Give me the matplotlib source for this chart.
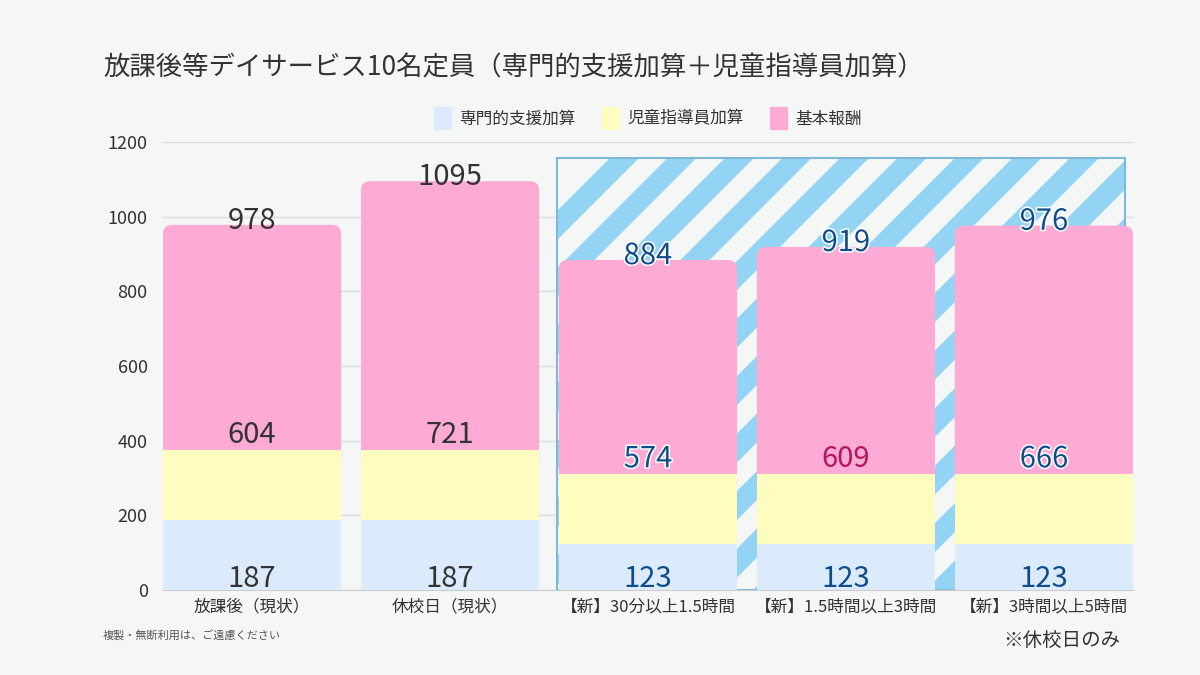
import matplotlib
matplotlib.use("Agg")
import matplotlib.pyplot as plt
import matplotlib.patches as patches
import matplotlib.patheffects as pe
from matplotlib.collections import PolyCollection

plt.rcParams['font.family'] = ['Noto Sans CJK JP', 'DejaVu Sans']

# --- data ---
categories = ['放課後（現状）', '休校日（現状）', '【新】30分以上1.5時間',
              '【新】1.5時間以上3時間', '【新】3時間以上5時間']
senmon = [187, 187, 123, 123, 123]      # 専門的支援加算
jidou = [187, 187, 187, 187, 187]       # 児童指導員加算
kihon = [604, 721, 574, 609, 666]       # 基本報酬
series_names = ['専門的支援加算', '児童指導員加算', '基本報酬']
yticks = [0, 200, 400, 600, 800, 1000, 1200]

BG = '#F5F7F7'
C_BLUE = '#DCEBFC'
C_YEL = '#FEFCBE'
C_PINK = '#FDAAD4'
STRIPE = '#93D4F4'
DARK = '#333333'
NAVY = '#0F4C8C'
CRIMSON = '#B3185C'

fig = plt.figure(figsize=(12, 6.75), dpi=100)
fig.patch.set_facecolor(BG)
W, H = 1200, 675
ax = fig.add_axes([163 / W, 85 / H, 970 / W, 448 / H])
ax.set_facecolor(BG)
ax.set_xlim(-0.45, 4.45)
ax.set_ylim(0, 1200)

ppx = 970 / 4.9      # pixels per x unit
ppy = 448 / 1200     # pixels per y unit

x = list(range(len(categories)))
base2 = [a + b for a, b in zip(senmon, jidou)]
totals = [a + b for a, b in zip(base2, kihon)]

# hatched "new" area
rx0, rx1, rtop = 1.54, 4.41, 1157
hatch_rect = patches.Rectangle((rx0, 0), rx1 - rx0, rtop, facecolor=BG,
                               edgecolor='none', zorder=1)
ax.add_patch(hatch_rect)
Hpx = rtop * ppy
polys = []
s = 178 - 163
while s < (rx1 + 0.45) * ppx:
    pts = [(s, 0), (s + 29, 0), (s + 29 + Hpx, Hpx), (s + Hpx, Hpx)]
    polys.append([(px / ppx - 0.45, py / ppy) for px, py in pts])
    s += 57.5
stripes = PolyCollection(polys, facecolors=STRIPE, edgecolors='none', zorder=1.5)
ax.add_collection(stripes)
stripes.set_clip_path(hatch_rect)
# border above stripes
ax.add_patch(patches.Rectangle((rx0, 0), rx1 - rx0, rtop, facecolor='none',
                               edgecolor='#80B9D8', linewidth=1.5, zorder=1.6))

ax.set_axisbelow(True)
ax.grid(axis='y', color='#DADDDD', linewidth=1)
ax.grid(axis='x', visible=False)

w = 0.9
b1 = ax.bar(x, senmon, width=w, color=C_BLUE, zorder=3, label=series_names[0])
b2 = ax.bar(x, jidou, width=w, bottom=senmon, color=C_YEL, zorder=3, label=series_names[1])
b3 = ax.bar(x, kihon, width=w, bottom=base2, color=C_PINK, zorder=2.5, label=series_names[2])

# rounded tops on the pink segments
for r in b3:
    r.set_visible(False)
    bx, by, bw, bh = r.get_x(), r.get_y(), r.get_width(), r.get_height()
    fb = patches.FancyBboxPatch((bx, by - 60), bw, bh + 60,
                                boxstyle='round,pad=0,rounding_size=%f' % (9 / ppx),
                                mutation_aspect=ppx / ppy,
                                facecolor=C_PINK, edgecolor='none', zorder=2.5)
    ax.add_patch(fb)

for i in x:
    new = i >= 2
    col = NAVY if new else DARK
    fx = [pe.withStroke(linewidth=2.2, foreground='white')] if new else []
    ax.annotate(str(totals[i]), (i, totals[i]), xytext=(0, -3), textcoords='offset points',
                ha='center', va='baseline', fontsize=21, color=col, zorder=5, path_effects=fx)
    pc = CRIMSON if i == 3 else col
    pfx = [] if i == 3 else fx
    ax.annotate(str(kihon[i]), (i, base2[i]), xytext=(0, 5), textcoords='offset points',
                ha='center', va='baseline', fontsize=21, color=pc, zorder=5, path_effects=pfx)
    ax.annotate(str(senmon[i]), (i, 0), xytext=(0, 2), textcoords='offset points',
                ha='center', va='baseline', fontsize=21, color=col, zorder=5)

ax.set_yticks(yticks)
ax.set_xticks(x)
ax.set_xticklabels(categories, fontsize=12, color=DARK)
ax.tick_params(axis='y', length=0, pad=11, labelsize=13, labelcolor=DARK)
ax.tick_params(axis='x', length=0, pad=6)
for sp in ['top', 'right', 'left']:
    ax.spines[sp].set_visible(False)
ax.spines['bottom'].set_color('#CCCCCC')

fig.text(103 / W, 1 - 68 / H, '放課後等デイサービス10名定員（専門的支援加算＋児童指導員加算）',
         fontsize=19, color=DARK, va='center', ha='left')

handles = [patches.Rectangle((0, 0), 1, 1, color=c) for c in (C_BLUE, C_YEL, C_PINK)]
fig.legend(handles, series_names, loc='center', bbox_to_anchor=(648 / W, 1 - 118 / H),
           ncol=3, frameon=False, fontsize=12, handlelength=1.0, handleheight=1.6,
           handletextpad=0.5, columnspacing=1.6, labelcolor=DARK)

fig.text(103 / W, 1 - 635 / H, '複製・無断利用は、ご遠慮ください', fontsize=8,
         color='#555555', va='center', ha='left')
fig.text(1120 / W, 1 - 640 / H, '※休校日のみ', fontsize=14, color=DARK,
         va='center', ha='right')

fig.savefig('out.png', dpi=100, facecolor=BG)
